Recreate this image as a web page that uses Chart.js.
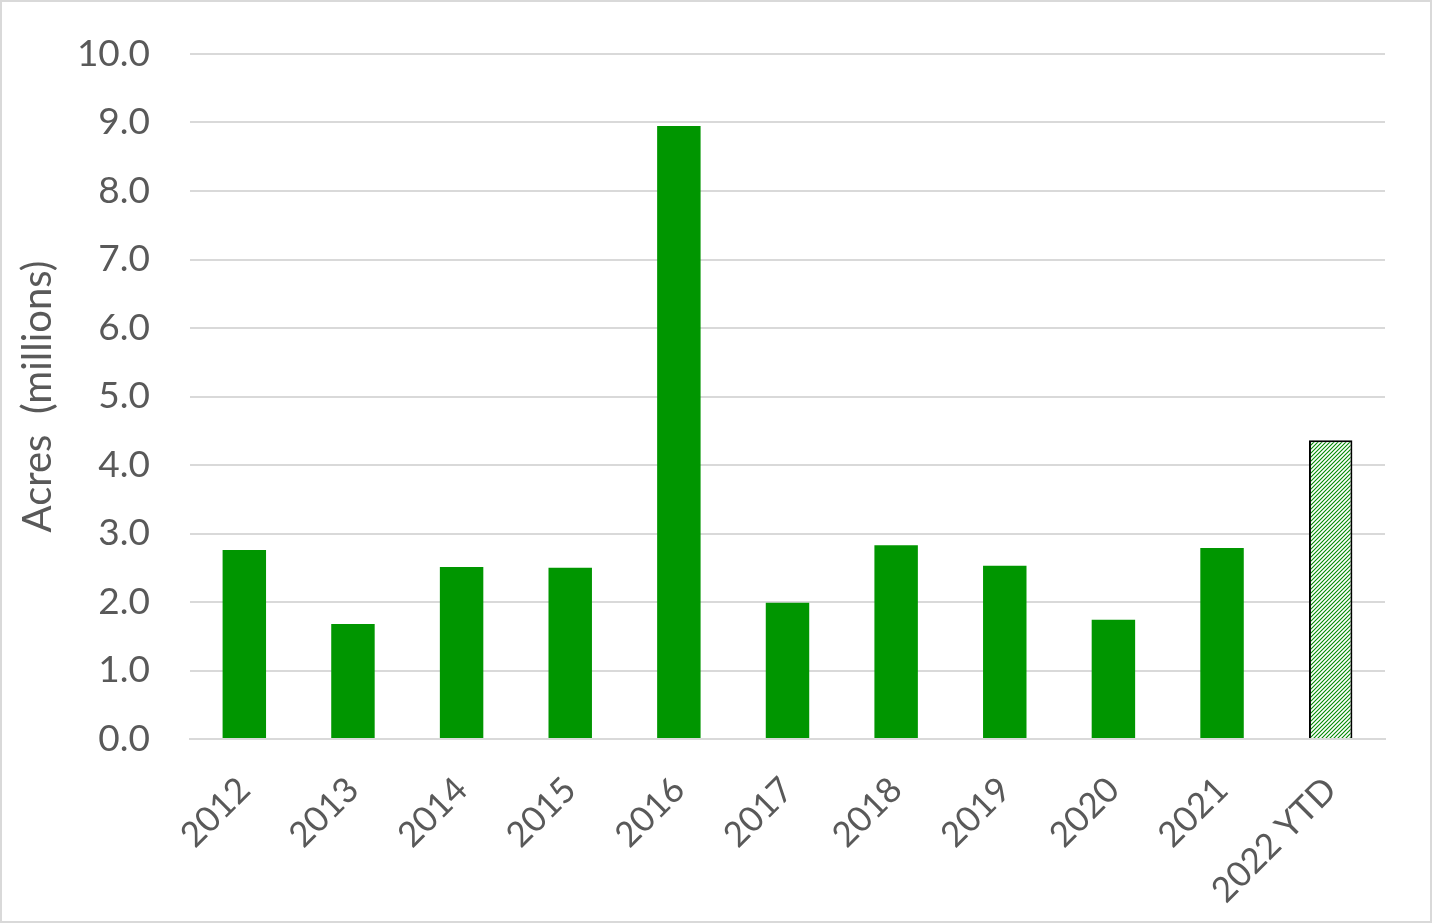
<!DOCTYPE html>
<html>
<head>
<meta charset="utf-8">
<script src="https://cdn.jsdelivr.net/npm/chart.js@4"></script>
<style>
html,body{margin:0;padding:0;background:#fff;}
#wrap{position:relative;width:1432px;height:923px;box-sizing:border-box;border:2px solid #d9d9d9;}
canvas{display:block;}
</style>
</head>
<body>
<div id="wrap"><canvas id="c" width="1428" height="919"></canvas></div>
<script>
const categories = ["2012","2013","2014","2015","2016","2017","2018","2019","2020","2021","2022 YTD"];
const acres = [2.76, 1.68, 2.51, 2.50, 8.95, 1.99, 2.83, 2.53, 1.74, 2.79, 4.36];
const yTicks = [0,1,2,3,4,5,6,7,8,9,10];

function hatch(){
  const n = 4;
  const c = document.createElement('canvas');
  c.width = n; c.height = n;
  const g = c.getContext('2d');
  g.fillStyle = '#ffffff'; g.fillRect(0,0,n,n);
  g.strokeStyle = '#008a00'; g.lineWidth = 1.1;
  g.beginPath();
  g.moveTo(-1,n+1); g.lineTo(n+1,-1);
  g.moveTo(-1,1); g.lineTo(1,-1);
  g.moveTo(n-1,n+1); g.lineTo(n+1,n-1);
  g.stroke();
  return g.createPattern(c,'repeat');
}
const pat = hatch();
const fills = categories.map((c,i)=> i===categories.length-1 ? pat : '#009600');
const borders = categories.map((c,i)=> i===categories.length-1 ? '#000000' : '#009600');
const bw = categories.map((c,i)=> i===categories.length-1 ? 2 : 0);

const font = 'Lato, "Open Sans", sans-serif';
new Chart(document.getElementById('c'), {
  type: 'bar',
  data: { labels: categories, datasets: [{ data: acres, backgroundColor: fills, borderColor: borders, borderWidth: bw, barPercentage: 0.4, categoryPercentage: 1.0 }]},
  options: {
    responsive: false, animation: false,
    layout: { padding: { left: 0, right: 45, top: 52, bottom: 0 } },
    plugins: { legend: {display:false}, tooltip: {enabled:false} },
    scales: {
      x: {
        grid: { display: false },
        border: { color: '#d9d9d9', width: 2 },
        ticks: { color: '#595959', font: { family: font, size: 35 }, maxRotation: 45, minRotation: 45, padding: 22 },
        afterFit: (s)=>{ s.height = 919 - 737; s.paddingLeft = 0; s.paddingRight = 0; }
      },
      y: {
        min: 0, max: 10,
        afterBuildTicks: (s)=>{ s.ticks = yTicks.map(v=>({value:v})); },
        grid: { color: '#d9d9d9', lineWidth: 2, drawTicks: false },
        border: { display: false },
        ticks: { color: '#595959', font: { family: font, size: 37 }, padding: 40, callback: v => v.toFixed(1) },
        title: { display: true, text: 'Acres  (millions)', color: '#595959', font: { family: font, size: 40 }, padding: { top: 12, bottom: 0 } },
        afterFit: (s)=>{ s.width = 188; s.paddingTop = 0; s.paddingBottom = 0; }
      }
    }
  }
});
</script>
</body>
</html>
